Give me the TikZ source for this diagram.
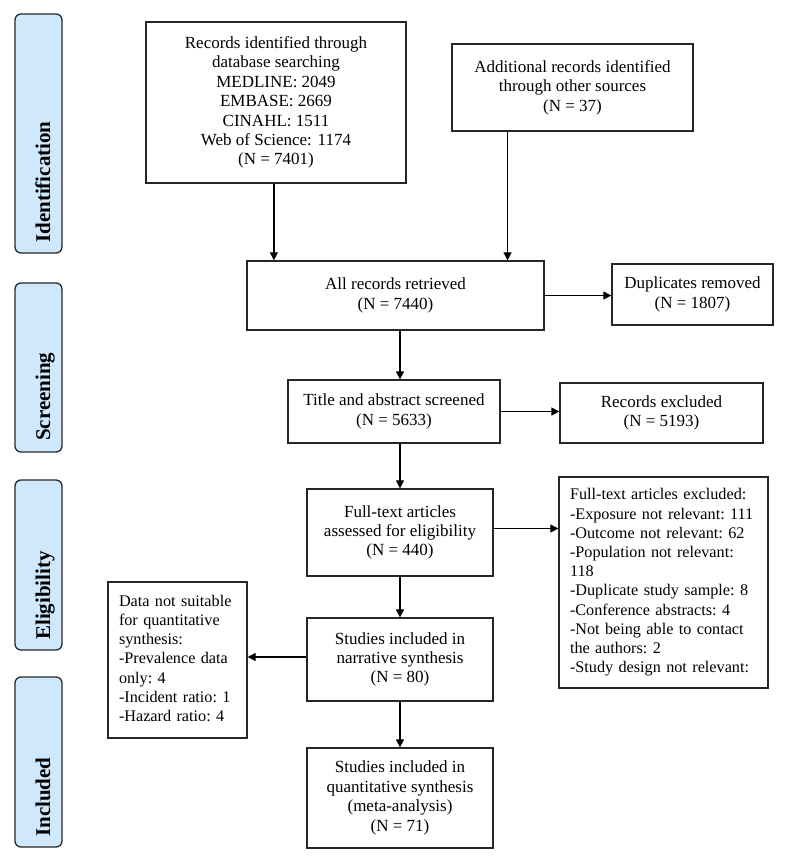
\documentclass[tikz,border=0pt]{standalone}
\usepackage{fontspec}
\setmainfont{Liberation Serif}
\usetikzlibrary{arrows.meta,calc}
\definecolor{phasefill}{RGB}{207,232,252}
\definecolor{phaseline}{RGB}{40,40,40}
\newcommand{\lefttext}[1]{\frenchspacing\begin{tabular}{@{}l@{}}#1\end{tabular}}
\begin{document}
\begin{tikzpicture}[x=1pt,y=-1pt,
  box/.style={draw=black!85, line width=1.3pt, inner sep=0pt, align=center,
    font=\fontsize{17}{19.4}\selectfont},
  lbox/.style={draw=black!85, line width=1.3pt, inner xsep=11pt, inner ysep=0pt, align=left,
    font=\fontsize{16.2}{19.2}\selectfont},
  phase/.style={draw=phaseline, fill=phasefill, line width=1.3pt, rounded corners=6pt,
    minimum width=47pt, inner sep=0pt},
  phasetext/.style={rotate=90, anchor=base west, inner sep=0pt,
    font=\fontsize{21}{24}\selectfont\bfseries},
  arr/.style={line width=1.2pt, -{Triangle[length=8pt,width=8pt]}}
]
\useasboundingbox (0,0) rectangle (800,863);

% phase labels
\node[phase, minimum height=239pt] (pid) at (38.5,133.5) {};
\node[phase, minimum height=169pt] (psc) at (38.5,367.5) {};
\node[phase, minimum height=170pt] (pel) at (38.5,565) {};
\node[phase, minimum height=170pt] (pin) at (38.5,762) {};
\node[phasetext] (tid) at (50,243) {Identification};
\node[phasetext] (tsc) at (50,441) {Screening};
\node[phasetext] (tel) at (50,640) {Eligibility};
\node[phasetext] (tin) at (50,837) {Included};

% boxes
\node[box, minimum width=260pt, minimum height=161pt] (b1) at (276,102.5)
  {Records identified through\\database searching\\MEDLINE: 2049\\EMBASE: 2669\\CINAHL: 1511\\Web of Science: 1174\\(N = 7401)};
\node[box, minimum width=241pt, minimum height=87pt] (b2) at (572.5,87.5)
  {Additional records identified\\through other sources\\(N = 37)};
\node[box, minimum width=297pt, minimum height=69pt] (all) at (395.5,295.5)
  {All records retrieved\\(N = 7440)};
\node[box, minimum width=161pt, minimum height=61pt] (dup) at (692.5,294.5)
  {Duplicates removed\\(N = 1807)};
\node[box, minimum width=212pt, minimum height=63pt] (tit) at (394,411.5)
  {Title and abstract screened\\(N = 5633)};
\node[box, minimum width=203pt, minimum height=60pt] (rex) at (661.5,413)
  {Records excluded\\(N = 5193)};
\node[box, minimum width=186pt, minimum height=87pt] (ft) at (400,532.5)
  {Full-text articles\\assessed for eligibility\\(N = 440)};
\node[lbox, text width=187pt, minimum height=211pt] (ex) at (663.5,582.5)
  {\lefttext{Full-text articles excluded:\\-Exposure not relevant: 111\\-Outcome not relevant: 62\\-Population not relevant:\\118\\-Duplicate study sample: 8\\-Conference abstracts: 4\\-Not being able to contact\\the authors: 2\\-Study design not relevant:}};
\node[box, minimum width=186pt, minimum height=83pt] (nar) at (400,659.5)
  {Studies included in\\narrative synthesis\\(N = 80)};
\node[lbox, text width=117pt, minimum height=156pt] (left) at (177.5,660)
  {\lefttext{Data not suitable\\for quantitative\\synthesis:\\-Prevalence data\\only: 4\\-Incident ratio: 1\\-Hazard ratio: 4}};
\node[box, minimum width=186pt, minimum height=100pt] (bot) at (400,798)
  {Studies included in\\quantitative synthesis\\(meta-analysis)\\(N = 71)};

% connectors
\draw[arr] ($(b1.south west)!0.492!(b1.south east)$) coordinate (p1) -- (p1 |- all.north);
\draw[arr] ($(b2.south west)!0.232!(b2.south east)$) coordinate (p2) -- (p2 |- all.north);
\draw[arr] (all.east) -- (all.east -| dup.west);
\draw[arr] (ft.north |- all.south) -- (ft.north |- tit.north);
\draw[arr] (tit.east) -- (tit.east -| rex.west);
\draw[arr] (ft.north |- tit.south) -- (ft.north);
\draw[arr] ([yshift=4pt]ft.east) -- ([yshift=4pt]ft.east -| ex.west);
\draw[arr] (ft.south) -- (nar.north);
\draw[arr] ([yshift=2.5pt]nar.west) -- ([yshift=2.5pt]nar.west -| left.east);
\draw[arr] (nar.south) -- (bot.north);
\end{tikzpicture}
\end{document}
